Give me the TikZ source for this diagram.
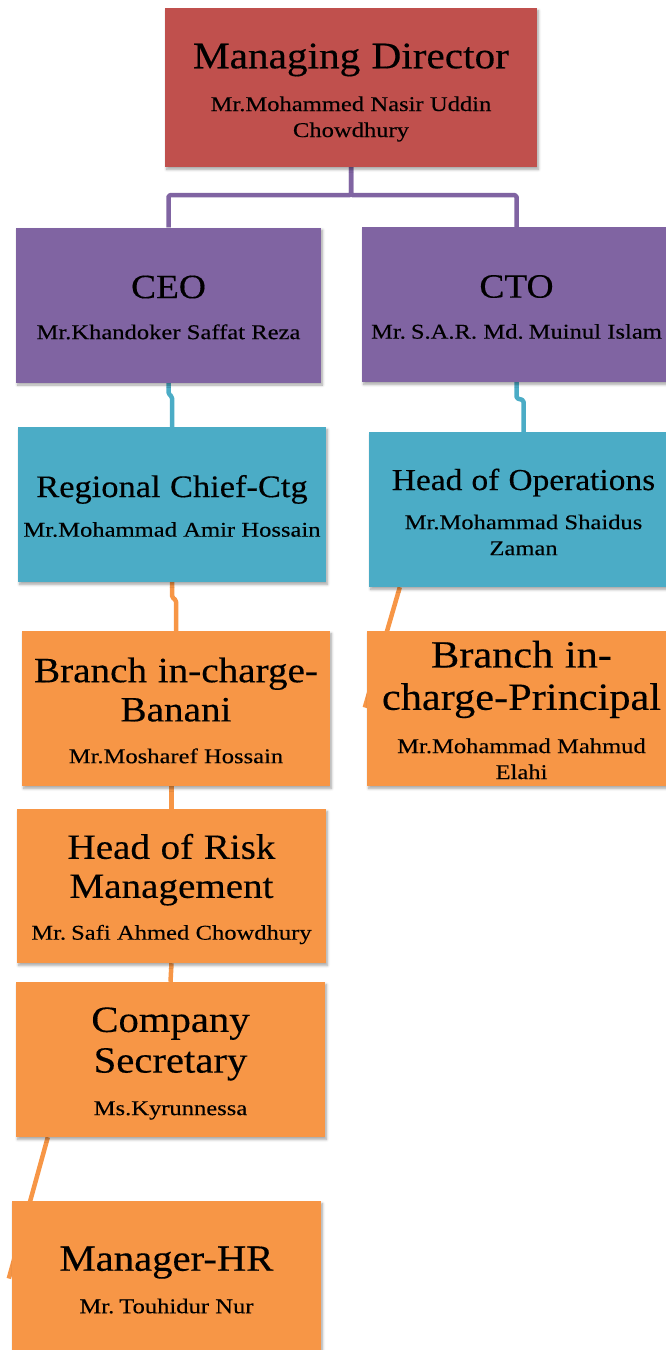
\documentclass[tikz,border=0pt]{standalone}
\usepackage{fontspec}
\setmainfont{Liberation Serif}
\newfontfamily\ttlfam{Liberation Serif}[FakeStretch=1.1, FakeBold=0.3]
\newfontfamily\subfam{Liberation Serif}[FakeStretch=1.17, FakeBold=0.25]
\usetikzlibrary{shadows.blur,calc,backgrounds}

\definecolor{mdred}{HTML}{C0504D}
\definecolor{execpurple}{HTML}{8064A2}
\definecolor{leadteal}{HTML}{4BACC6}
\definecolor{staffPorange}{HTML}{F79646}

% title size given per box; name line(s) always at 21pt
\newcommand{\ttlfont}[1]{\ttlfam\fontsize{#1}{\fpeval{1.1*#1}}\selectfont\spaceskip=0.3em\relax}
\newcommand{\subfont}{\subfam\fontsize{21}{26}\selectfont\spaceskip=0.3em\relax}
% optional first argument trims the bottom so the text block sits a little lower
\newcommand{\orgtext}[4][-5pt]{\hyphenpenalty=10000\exhyphenpenalty=10000
  {\ttlfont{#2}#3\par\vspace{\dimexpr .5em-2pt\relax}}{\subfont #4\par}\vspace{#1}}

\tikzset{
  orgbox/.style={rectangle, inner sep=0pt, align=center, text=black,
    minimum width=309pt, minimum height=155pt, text width=309pt,
    blur shadow={shadow xshift=1.5pt, shadow yshift=-2.5pt,
      shadow blur steps=6, shadow opacity=35, shadow blur radius=2.5pt}},
  link/.style={line width=4.5pt, line join=round, rounded corners=1.5pt},
}

\begin{document}
\begin{tikzpicture}[x=1pt, y=-1pt]
\useasboundingbox (0,0) rectangle (665,1350);

% executive level
\node[orgbox, fill=mdred, minimum width=372pt, minimum height=159pt, text width=372pt]
  (md) at (351,87.5) {\orgtext[-10pt]{37.5}{Managing Director}{Mr.Mohammed Nasir Uddin\\Chowdhury}};
\node[orgbox, fill=execpurple, minimum width=305pt, text width=305pt]
  (ceo) at (168.5,305) {\orgtext{34}{CEO}{Mr.Khandoker Saffat Reza}};
\node[orgbox, fill=execpurple]
  (cto) at (516.5,304.5) {\orgtext{34}{CTO}{Mr. S.A.R. Md. Muinul Islam}};

% second level
\node[orgbox, fill=leadteal, minimum width=308pt, text width=308pt]
  (reg) at (172,504.5) {\orgtext[-3pt]{31.3}{Regional Chief-Ctg}{Mr.Mohammad Amir Hossain}};
\node[orgbox, fill=leadteal]
  (ops) at (523.5,509.5) {\orgtext{30.4}{Head of Operations}{Mr.Mohammad Shaidus\\Zaman}};

% branch and staff level
\node[orgbox, fill=staffPorange, minimum width=308pt, text width=308pt]
  (banani) at (176,708.5) {\orgtext[-4pt]{35.6}{Branch in-charge-\\Banani}{Mr.Mosharef Hossain}};
\node[orgbox, fill=staffPorange]
  (principal) at (521.5,708.5) {\orgtext[-3pt]{38.5}{Branch in-\\charge-Principal}{Mr.Mohammad Mahmud\\Elahi}};
\node[orgbox, fill=staffPorange, minimum height=154pt]
  (risk) at (171.5,886) {\orgtext[-6pt]{35.5}{Head of Risk\\Management}{Mr. Safi Ahmed Chowdhury}};
\node[orgbox, fill=staffPorange]
  (secretary) at (170.5,1059.5) {\orgtext[-8pt]{37}{Company\\Secretary}{Ms.Kyrunnessa}};
\node[orgbox, fill=staffPorange]
  (hr) at (166.5,1278.5) {\orgtext[-3pt]{37}{Manager-HR}{Mr. Touhidur Nur}};

% connectors, kept behind the boxes
\begin{pgfonlayer}{background}
  \draw[link, execpurple] (md.south) -- ++(0,28) -| (ceo.north);
  \draw[link, execpurple] (md.south) -- ++(0,28) -| (cto.north);
  \draw[link, leadteal] (ceo.south) -- ++(0,11) -- ++(3.5,3) -- (reg.north);
  \draw[link, leadteal] (cto.south) -- ++(0,16) -- ++(7,2) -- (ops.north);
  \draw[link, staffPorange] (reg.south) -- ++(0,15) -- ++(4,3) -- (banani.north);
  \draw[link, staffPorange] (risk.north) -- (risk.north |- banani.south);
  \draw[link, staffPorange] (risk.south) -- (secretary.north);
  \draw[link, staffPorange] ($(ops.south west)+(31,0)$) -- ($(principal.west)+(-2,-1)$);
  \draw[link, staffPorange] ($(secretary.south west)+(32,0)$) -- ($(hr.west)+(-3,0)$);
\end{pgfonlayer}
\end{tikzpicture}
\end{document}
